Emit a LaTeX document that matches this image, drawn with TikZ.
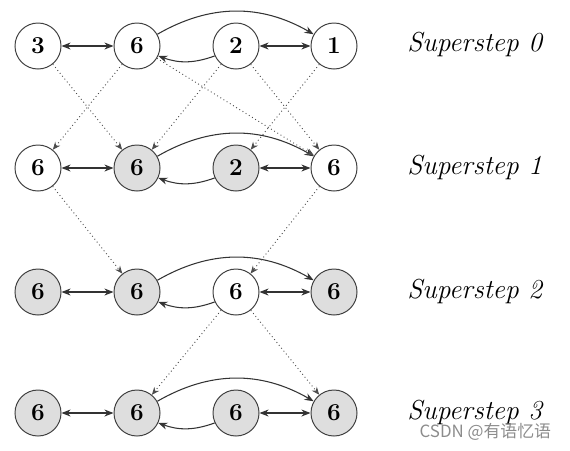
\documentclass[tikz,border=0pt]{standalone}
\usepackage{fontspec}
\newfontfamily\cjkfont{Noto Sans CJK SC}
\usetikzlibrary{arrows.meta}

\begin{document}
\begin{tikzpicture}[x=0.025cm, y=-0.025cm,
    vertex/.style={circle, draw=black!75, fill=white, line width=0.7pt,
        minimum size=1.15cm, inner sep=0pt, font=\LARGE\bfseries},
    halted/.style={vertex, fill=black!13},
    edge/.style={line width=0.75pt, draw=black!80,
        -{Stealth[length=6.5pt,width=5pt]}},
    both/.style={edge, {Stealth[length=6.5pt,width=5pt]}-{Stealth[length=6.5pt,width=5pt]}},
    msg/.style={dotted, line width=0.65pt, draw=black!70,
        -{Stealth[length=5.5pt,width=4.5pt]}},
    steplabel/.style={anchor=west, inner sep=0pt, font=\fontsize{19.5}{23}\selectfont\itshape}]
        % Frame
        \useasboundingbox (0,0) rectangle (570,450);
        % Superstep 0
        \node [vertex] (a0) at (38,46) {3};
        \node [vertex] (b0) at (137,46) {6};
        \node [vertex] (c0) at (236,46) {2};
        \node [vertex] (d0) at (334,46) {1};
        % Superstep 1
        \node [vertex] (a1) at (38,168) {6};
        \node [halted] (b1) at (137,168) {6};
        \node [halted] (c1) at (236,168) {2};
        \node [vertex] (d1) at (334,168) {6};
        % Superstep 2
        \node [halted] (a2) at (38,292) {6};
        \node [halted] (b2) at (137,292) {6};
        \node [vertex] (c2) at (236,292) {6};
        \node [halted] (d2) at (334,292) {6};
        % Superstep 3
        \node [halted] (a3) at (38,413) {6};
        \node [halted] (b3) at (137,413) {6};
        \node [halted] (c3) at (236,413) {6};
        \node [halted] (d3) at (334,413) {6};
        % Edges
            \foreach \r in {0,...,3}
        {
        \draw [both] (a\r) -- (b\r);
        \draw [both] (c\r) -- (d\r);
        \draw [edge] (b\r.30) to[out=30, in=150] (d\r.150);
        \draw [edge] (c\r.205) to[out=200, in=-20] (b\r.-25);
        }
        % Messages
        \draw [msg] (a0) -- (b1);
        \draw [msg] (b0) -- (a1);
        \draw [msg] (b0) -- (d1);
        \draw [msg] (c0) -- (b1);
        \draw [msg] (c0) -- (d1);
        \draw [msg] (d0) -- (c1);
        \draw [msg] (a1) -- (b2);
        \draw [msg] (d1) -- (c2);
        \draw [msg] (c2) -- (b3);
        \draw [msg] (c2) -- (d3);
        % Labels
            \foreach \r/\y in {0/45,1/167,2/291,3/412}
        \node [steplabel] (s\r) at (407,\y) {Superstep \r};
        \node [anchor=east, text=black!45, font=\cjkfont\large] (wm) at (556,432) {CSDN @有语忆语};
\end{tikzpicture}
\end{document}
